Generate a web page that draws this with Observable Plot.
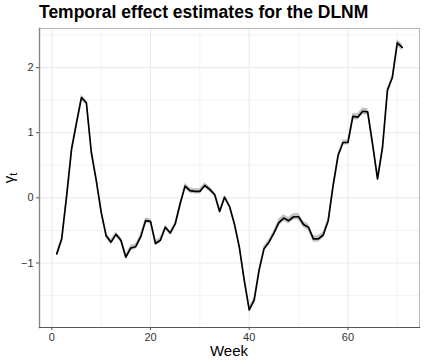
<!DOCTYPE html>
<html><head><meta charset="utf-8">
<script src="https://cdn.jsdelivr.net/npm/d3@7"></script>
<script src="https://cdn.jsdelivr.net/npm/@observablehq/plot@0.6"></script>
<style>
body{margin:0;background:#fff;}
#chart{width:425px;height:364px;}
</style>
</head><body><div id="chart"></div>
<script>
const weeks = [1,2,3,4,5,6,7,8,9,10,11,12,13,14,15,16,17,18,19,20,21,22,23,24,25,26,27,28,29,30,31,32,33,34,35,36,37,38,39,40,41,42,43,44,45,46,47,48,49,50,51,52,53,54,55,56,57,58,59,60,61,62,63,64,65,66,67,68,69,70,71];
const estimate = [-0.86,-0.63,0.03,0.75,1.15,1.54,1.46,0.70,0.27,-0.22,
  -0.58,-0.68,-0.56,-0.65,-0.91,-0.77,-0.75,-0.60,-0.35,-0.36,
  -0.70,-0.65,-0.45,-0.54,-0.40,-0.09,0.18,0.11,0.10,0.10,
  0.19,0.13,0.05,-0.21,0.01,-0.13,-0.40,-0.76,-1.27,-1.72,
  -1.57,-1.11,-0.78,-0.68,-0.54,-0.38,-0.31,-0.35,-0.29,-0.29,
  -0.41,-0.45,-0.63,-0.63,-0.57,-0.35,0.19,0.65,0.85,0.85,
  1.25,1.24,1.33,1.32,0.82,0.29,0.77,1.65,1.85,2.38,2.31];
const halfWidth = [0.03,0.03,0.03,0.03,0.03,0.04,0.04,0.03,0.03,0.03,
  0.04,0.04,0.04,0.04,0.04,0.04,0.04,0.04,0.04,0.04,
  0.04,0.04,0.03,0.03,0.03,0.03,0.04,0.04,0.04,0.04,
  0.04,0.04,0.03,0.03,0.03,0.03,0.03,0.03,0.03,0.04,
  0.04,0.03,0.04,0.04,0.04,0.05,0.05,0.05,0.05,0.05,
  0.05,0.05,0.05,0.05,0.05,0.04,0.03,0.03,0.04,0.04,
  0.05,0.05,0.05,0.05,0.03,0.03,0.03,0.03,0.03,0.05,0.05];
const xTicks = [0,20,40,60];
const xMinor = [10,30,50,70];
const yTicks = [-1,0,1,2];
const yMinor = [-1.5,-0.5,0.5,1.5,2.5];
const titleText = "Temporal effect estimates for the DLNM";
const xLabel = "Week";

const data = weeks.map((w,i)=>({week:w, v:estimate[i], lo:estimate[i]-halfWidth[i], hi:estimate[i]+halfWidth[i]}));
const font = '"Liberation Sans", Arial, Helvetica, sans-serif';
const fmt = d => d < 0 ? "\u2212" + Math.abs(d) : String(d);

const plot = Plot.plot({
  width:425, height:364,
  marginLeft:39, marginRight:6, marginTop:28, marginBottom:37,
  style:{fontFamily:font, fontSize:"11px", color:"#333", background:"#fff"},
  x:{domain:[-2.5,74.5]},
  y:{domain:[-1.99,2.6]},
  marks:[
    Plot.ruleX(xMinor,{stroke:"#ebebeb", strokeWidth:0.6}),
    Plot.ruleY(yMinor,{stroke:"#ebebeb", strokeWidth:0.6}),
    Plot.ruleX(xTicks,{stroke:"#ebebeb", strokeWidth:1.1}),
    Plot.ruleY(yTicks,{stroke:"#ebebeb", strokeWidth:1.1}),
    Plot.areaY(data,{x:"week", y1:"lo", y2:"hi", fill:"#999", fillOpacity:0.6}),
    Plot.lineY(data,{x:"week", y:"v", stroke:"#000", strokeWidth:1.7}),
    Plot.frame({stroke:"#b8b8b8", strokeWidth:1}),
    Plot.frame({anchor:"left", stroke:"#888", strokeWidth:1.4}),
    Plot.frame({anchor:"bottom", stroke:"#555", strokeWidth:1.2}),
    Plot.axisX({ticks:xTicks, tickSize:3, tickPadding:3, label:null, stroke:"#555", tickFormat:fmt}),
    Plot.axisY({ticks:yTicks, tickSize:3, tickPadding:3, label:null, stroke:"#555", tickFormat:fmt})
  ]
});
document.getElementById("chart").appendChild(plot);
const svg = d3.select(plot);
svg.append("text").attr("x",39).attr("y",17.5).attr("text-anchor","start")
  .attr("font-family",font).attr("font-size","17.5px").attr("font-weight","bold").attr("fill","#000")
  .text(titleText);
svg.append("text").attr("x",229).attr("y",356).attr("text-anchor","middle")
  .attr("font-family",font).attr("font-size","15px").attr("fill","#000").text(xLabel);
const yl = svg.append("text").attr("transform","translate(14,178) rotate(-90)").attr("text-anchor","middle")
  .attr("font-family",font).attr("font-size","15px").attr("fill","#000");
yl.append("tspan").text("γ");
yl.append("tspan").attr("font-size","11px").attr("dy","3").text("t");
</script>
</body></html>
